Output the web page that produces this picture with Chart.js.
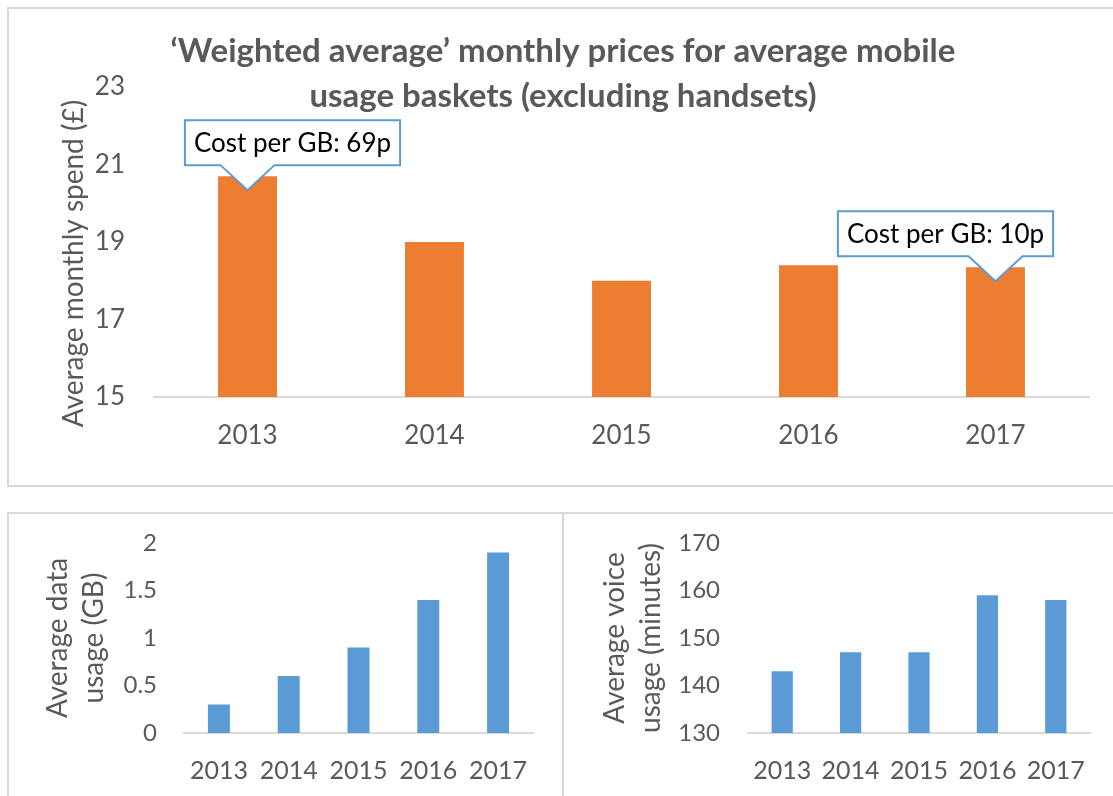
<!DOCTYPE html>
<html>
<head>
<meta charset="utf-8">
<script src="https://cdn.jsdelivr.net/npm/chart.js@4.4.0/dist/chart.umd.min.js"></script>
<style>
  body { margin: 0; background: #fff; width: 1113px; height: 796px; overflow: hidden; position: relative; }
  .box { position: absolute; border: 2px solid #d9d9d9; box-sizing: border-box; }
  canvas { position: absolute; }
</style>
</head>
<body>
<div class="box" style="left:7px; top:7px; width:1120px; height:480px;"></div>
<div class="box" style="left:7px; top:512px; width:557px; height:300px;"></div>
<div class="box" style="left:562px; top:512px; width:600px; height:300px;"></div>
<canvas id="spend-chart" width="1113" height="490" style="left:0; top:0;"></canvas>
<canvas id="data-chart" width="560" height="306" style="left:0; top:490px;"></canvas>
<canvas id="voice-chart" width="550" height="306" style="left:563px; top:490px;"></canvas>
<script>
// Chart data
const years = ['2013', '2014', '2015', '2016', '2017'];
const monthlySpend = [20.7, 19.0, 18.0, 18.4, 18.35];
const spendTicks = [15, 17, 19, 21, 23];
const calloutTexts = ['Cost per GB: 69p', '', '', '', 'Cost per GB: 10p'];
const dataUsage = [0.3, 0.6, 0.9, 1.4, 1.9];
const dataTicks = [0, 0.5, 1, 1.5, 2];
const voiceUsage = [143, 147, 147, 159, 158];
const voiceTicks = [130, 140, 150, 160, 170];

const FONT = 'Lato, "Open Sans", sans-serif';
const GREY = '#595959';

// Title drawn over the plot, like Excel does
const titlePlugin = {
  id: 'overlayTitle',
  afterDraw(chart, args, opts) {
    if (!opts.lines) return;
    const ctx = chart.ctx;
    ctx.save();
    ctx.font = 'bold 33px ' + FONT;
    ctx.fillStyle = GREY;
    ctx.textAlign = 'center';
    ctx.textBaseline = 'middle';
    opts.lines.forEach((line, i) => ctx.fillText(line, opts.x, opts.y + i * 45));
    ctx.restore();
  }
};

// Speech-bubble callouts pointing at bars
const calloutPlugin = {
  id: 'callouts',
  afterDatasetsDraw(chart, args, opts) {
    if (!opts.texts) return;
    const ctx = chart.ctx;
    const bars = chart.getDatasetMeta(0).data;
    ctx.save();
    ctx.font = '26px ' + FONT;
    opts.texts.forEach((text, i) => {
      if (!text) return;
      const bar = bars[i];
      const tipX = bar.x;
      const tipY = bar.y + 14;
      const w = ctx.measureText(text).width + 18;
      const h = 45;
      const cx = tipX + (opts.shift[i] || 0);
      const left = cx - w / 2, right = cx + w / 2;
      const bottom = tipY - 25, top = bottom - h;
      ctx.beginPath();
      ctx.moveTo(left, top);
      ctx.lineTo(right, top);
      ctx.lineTo(right, bottom);
      ctx.lineTo(tipX + 27, bottom);
      ctx.lineTo(tipX, tipY);
      ctx.lineTo(tipX - 27, bottom);
      ctx.lineTo(left, bottom);
      ctx.closePath();
      ctx.fillStyle = '#ffffff';
      ctx.fill();
      ctx.strokeStyle = '#5b9bd5';
      ctx.lineWidth = 2;
      ctx.stroke();
      ctx.fillStyle = '#000000';
      ctx.textAlign = 'center';
      ctx.textBaseline = 'middle';
      ctx.fillText(text, cx, top + h / 2 + 1);
    });
    ctx.restore();
  }
};

function makeBarChart(id, s) {
  return new Chart(document.getElementById(id), {
    type: 'bar',
    data: {
      labels: years,
      datasets: [{
        data: s.values,
        backgroundColor: s.color,
        borderWidth: 0,
        categoryPercentage: 1,
        barPercentage: s.barPct
      }]
    },
    plugins: [titlePlugin, calloutPlugin],
    options: {
      responsive: false,
      animation: false,
      layout: { padding: s.padding },
      plugins: {
        legend: { display: false },
        tooltip: { enabled: false },
        title: { display: false },
        overlayTitle: s.title || {},
        callouts: s.callouts || {}
      },
      scales: {
        x: {
          grid: { display: false, drawTicks: false },
          border: { display: true, color: '#d9d9d9', width: 2 },
          ticks: { color: GREY, font: { family: FONT, size: s.xFont }, padding: s.xPad, maxRotation: 0 },
          afterFit: (scale) => { scale.height = s.xHeight; }
        },
        y: {
          min: s.ticks[0],
          max: s.ticks[s.ticks.length - 1],
          grid: { display: false, drawTicks: false },
          border: { display: false },
          ticks: {
            stepSize: s.ticks[1] - s.ticks[0],
            color: GREY,
            font: { family: FONT, size: s.yFont },
            padding: s.yPad,
            callback: (v) => String(v)
          },
          title: {
            display: true,
            text: s.yTitle,
            color: GREY,
            font: { family: FONT, size: 28, lineHeight: 1.32 },
            padding: { top: s.yTitlePad, bottom: 0 }
          },
          afterFit: (scale) => { scale.width = s.yWidth; }
        }
      }
    }
  });
}

makeBarChart('spend-chart', {
  values: monthlySpend,
  ticks: spendTicks,
  color: '#ed7d31',
  barPct: 0.315,
  padding: { left: 0, right: 24, top: 87, bottom: 33 },
  xHeight: 60, xPad: 23, xFont: 26,
  yWidth: 154, yPad: 29, yFont: 26,
  // trailing spaces nudge the rotated title down, as in the original
  yTitle: 'Average monthly spend (£)      ', yTitlePad: 55,
  title: { lines: ['\u2018Weighted average\u2019 monthly prices for average mobile', 'usage baskets (excluding handsets)'], x: 563, y: 51 },
  callouts: { texts: calloutTexts, shift: { 0: 45, 4: -50 } }
});

makeBarChart('data-chart', {
  values: dataUsage,
  ticks: dataTicks,
  color: '#5b9bd5',
  barPct: 0.315,
  padding: { left: 0, right: 27, top: 53, bottom: 13 },
  xHeight: 50, xPad: 23, xFont: 25,
  yWidth: 184, yPad: 27, yFont: 24,
  yTitle: ['Average data', 'usage (GB)'], yTitlePad: 39
});

makeBarChart('voice-chart', {
  values: voiceUsage,
  ticks: voiceTicks,
  color: '#5b9bd5',
  barPct: 0.31,
  padding: { left: 0, right: 23, top: 53, bottom: 13 },
  xHeight: 50, xPad: 23, xFont: 25,
  yWidth: 185, yPad: 28, yFont: 24,
  yTitle: ['Average voice', 'usage (minutes)'], yTitlePad: 33
});
</script>
</body>
</html>
